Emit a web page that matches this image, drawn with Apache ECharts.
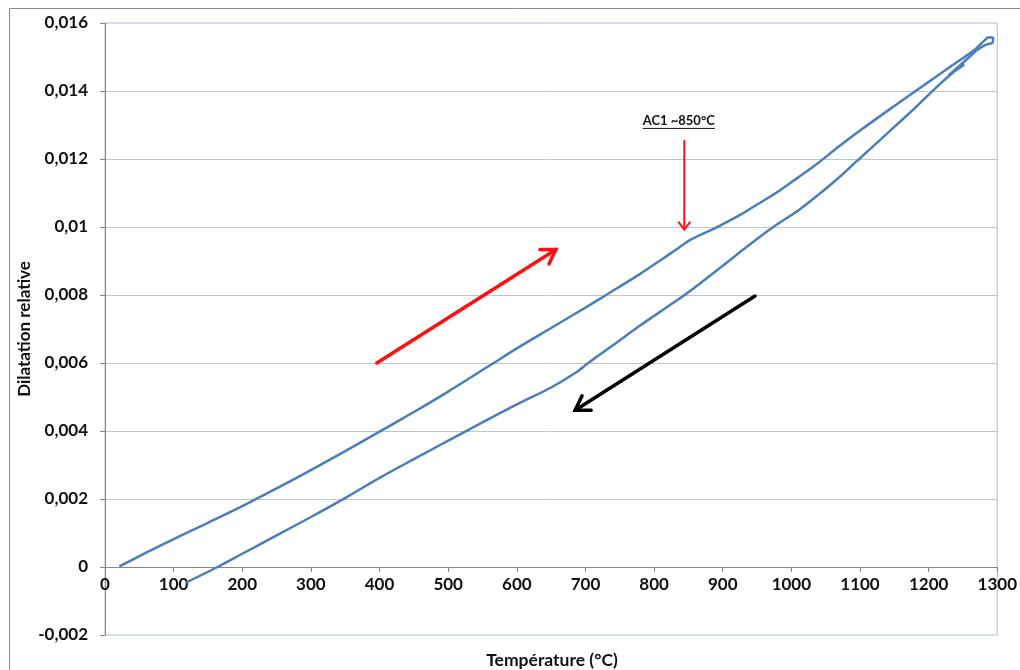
<!DOCTYPE html>
<html><head><meta charset="utf-8">
<script src="https://cdn.jsdelivr.net/npm/echarts@6/dist/echarts.min.js"></script>
<style>html,body{margin:0;padding:0;background:#fff;}#c{width:1020px;height:670px;}</style>
</head><body><div id="c"></div>
<script>
// ---- data ----
const xTicks = [0,100,200,300,400,500,600,700,800,900,1000,1100,1200,1300];
const yTicks = [-0.002,0,0.002,0.004,0.006,0.008,0.010,0.012,0.014,0.016];
const heatT = [21,60,100,150,200,250,300,350,400,450,500,564,600,650,700,730,778,810,836,851,870,894,924,950,982,1010,1040,1070,1103,1150,1181,1230,1268,1280,1288,1294,1293,1283,1270];
const heatDil = [0.00002,0.00042,0.00082,0.0013,0.00179,0.00231,0.00285,0.00341,0.00398,0.00456,0.00516,0.00597,0.00643,0.00703,0.00763,0.0080,0.0086,0.00903,0.00939,0.0096,0.00979,0.01002,0.01034,0.01066,0.01106,0.01146,0.0119,0.01238,0.01288,0.01356,0.0140,0.01469,0.01523,0.01546,0.01558,0.01555,0.01542,0.01536,0.0152];
const coolT = [1270,1256,1244,1229,1252,1236,1212,1181,1152,1125,1096,1069,1040,1011,972,930,900,850,820,778,740,704,686,650,600,531,480,424,400,349,300,250,200,164,118];
const coolDil = [0.0152,0.01494,0.01472,0.01446,0.01478,0.01455,0.01412,0.01352,0.01298,0.01248,0.01195,0.01145,0.01096,0.0105,0.00998,0.00934,0.00886,0.00808,0.00766,0.00708,0.00652,0.0060,0.00572,0.00528,0.00478,0.00405,0.0035,0.00289,0.00262,0.00202,0.00147,0.00093,0.00039,0.0,-0.00046];
const redArrow = [[396,0.0060,657,0.00934]];
const blackArrow = [[947,0.00797,685,0.00461]];
const acArrow = [[844,0.01253,844,0.00993]];
const acLabel = [[836,0.01312,'AC1 ~850°C']];
const xTitle = 'Température (°C)';
const yTitle = 'Dilatation relative';

const FONT = 'Lato, "Open Sans", "DejaVu Sans", sans-serif';
const zip = (a,b) => a.map((v,i)=>[v,b[i]]);

const GRID = {left:105, right:21, top:23, bottom:35};
const plotH = 670 - GRID.top - GRID.bottom;
const yMin = yTicks[0], yMax = yTicks[yTicks.length-1];
const zeroOffset = plotH * (0 - yMin) / (yMax - yMin);

function arrowSeries(data, color, width, head, angleDeg){
  return {
    type:'custom', silent:true, z:5, data:data,
    renderItem:function(params, api){
      const p1 = api.coord([api.value(0), api.value(1)]);
      const p2 = api.coord([api.value(2), api.value(3)]);
      const ang = Math.atan2(p2[1]-p1[1], p2[0]-p1[0]);
      const a = angleDeg*Math.PI/180;
      const h1 = [p2[0]-head*Math.cos(ang-a), p2[1]-head*Math.sin(ang-a)];
      const h2 = [p2[0]-head*Math.cos(ang+a), p2[1]-head*Math.sin(ang+a)];
      return {type:'group', children:[
        {type:'line', shape:{x1:p1[0],y1:p1[1],x2:p2[0],y2:p2[1]}, style:{stroke:color,lineWidth:width,lineCap:'round'}},
        {type:'polyline', shape:{points:[h1,p2,h2]}, style:{stroke:color,lineWidth:width,fill:null,lineJoin:'miter',lineCap:'round'}}
      ]};
    }
  };
}

const measureCtx = document.createElement('canvas').getContext('2d');

const chart = echarts.init(document.getElementById('c'), null, {renderer:'canvas'});
chart.setOption({
  animation:false,
  backgroundColor:'#ffffff',
  grid:Object.assign({show:true, borderColor:'#a9bfd8', borderWidth:1, backgroundColor:'transparent'}, GRID),
  xAxis:{
    type:'value', min:xTicks[0], max:xTicks[xTicks.length-1], interval:100,
    position:'bottom', offset:-zeroOffset,
    axisLine:{onZero:false, lineStyle:{color:'#868686', width:1}},
    axisTick:{show:true, inside:false, length:5, lineStyle:{color:'#868686'}},
    axisLabel:{color:'#111', fontFamily:FONT, fontWeight:'bold', fontSize:17, margin:9,
      formatter:v => xTicks.indexOf(v) >= 0 ? String(v) : ''},
    splitLine:{show:false}
  },
  yAxis:{
    type:'value', min:yMin, max:yMax, interval:0.002,
    axisLine:{show:true, onZero:false, lineStyle:{color:'#868686', width:1}},
    axisTick:{show:true, inside:false, length:5, lineStyle:{color:'#868686'}},
    axisLabel:{color:'#111', fontFamily:FONT, fontWeight:'bold', fontSize:17, margin:17,
      formatter:v => String(+(+v).toFixed(4)).replace('.', ',')},
    splitLine:{show:true, showMinLine:false, showMaxLine:false, lineStyle:{color:'#c4c4c4', width:1}}
  },
  graphic:[
    {type:'rect', silent:true, z:-10, shape:{x:9.5, y:8.5, width:1100, height:1000}, style:{fill:null, stroke:'#8a8a8a', lineWidth:1}},
    {type:'text', silent:true, x:552, y:660, style:{text:xTitle, align:'center', verticalAlign:'middle', font:'bold 17.5px '+FONT, fill:'#111'}},
    {type:'text', silent:true, x:25, y:329, rotation:Math.PI/2, style:{text:yTitle, align:'center', verticalAlign:'middle', font:'bold 17px '+FONT, fill:'#111'}}
  ],
  series:[
    {type:'line', data:zip(heatT, heatDil), showSymbol:false, smooth:0.3, lineStyle:{color:'#4a7ebb', width:2.5}, itemStyle:{color:'#4a7ebb'}, z:3},
    {type:'line', data:zip(coolT, coolDil), showSymbol:false, smooth:0.3, lineStyle:{color:'#4a7ebb', width:2.5}, itemStyle:{color:'#4a7ebb'}, z:3},
    arrowSeries(redArrow, '#ff1010', 3.5, 16, 32),
    arrowSeries(blackArrow, '#000000', 3.5, 16, 32),
    arrowSeries(acArrow, '#ff1010', 2, 9, 38),
    {
      type:'custom', silent:true, z:6, data:acLabel,
      renderItem:function(params, api){
        const p = api.coord([api.value(0), api.value(1)]);
        const txt = acLabel[params.dataIndex][2];
        const font = 'bold 13px ' + FONT;
        measureCtx.font = font;
        const w = measureCtx.measureText(txt).width;
        return {type:'group', children:[
          {type:'text', style:{text:txt, x:p[0], y:p[1], align:'center', verticalAlign:'middle', font:font, fill:'#111'}},
          {type:'line', shape:{x1:p[0]-w/2, y1:p[1]+7.5, x2:p[0]+w/2, y2:p[1]+7.5}, style:{stroke:'#111', lineWidth:1}}
        ]};
      }
    }
  ]
});
</script>
</body></html>
